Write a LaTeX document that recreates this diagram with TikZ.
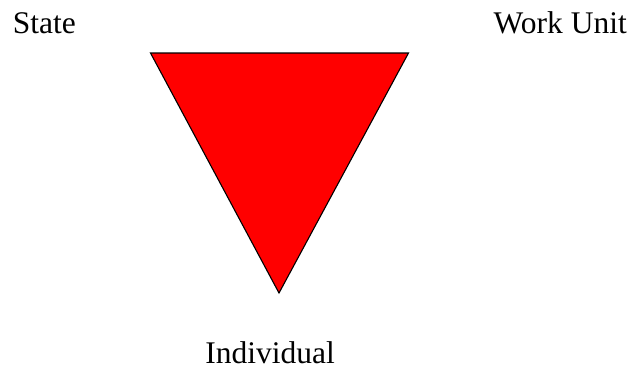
\documentclass[tikz,border=0pt]{standalone}
\usepackage{fontspec}
\newfontfamily\timesfont{Liberation Serif}
\begin{document}
\begin{tikzpicture}[x=1pt,y=-1pt,
  lbl/.style={inner sep=0pt,font=\timesfont\fontsize{31.5}{36}\selectfont}]
\useasboundingbox (0,0) rectangle (634,370);
\coordinate (tl) at (150.5,53);
\coordinate (tr) at (408.5,53);
\coordinate (bt) at (279,293);
\draw[fill=red,draw=black,line width=1.1pt,line join=miter] (tl) -- (tr) -- (bt) -- cycle;
\node[lbl,anchor=base west] (state) at (12.7,33) {State};
\node[lbl,anchor=base east] (work) at (627,33) {Work Unit};
\node[lbl,anchor=base] (indiv) at (270,363) {Individual};
\end{tikzpicture}
\end{document}
